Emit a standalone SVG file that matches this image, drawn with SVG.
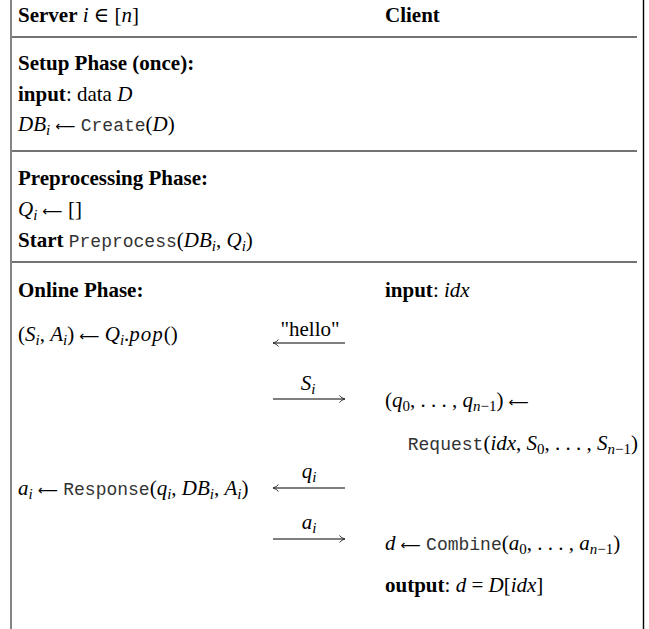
<svg xmlns="http://www.w3.org/2000/svg" width="649" height="629" viewBox="0 0 649 629">
<style>
text{font-family:"Liberation Serif","DejaVu Serif",serif;font-size:21px;fill:#000}
.b{font-weight:bold}
.it{font-style:italic}
.tt{font-family:"Liberation Mono","DejaVu Sans Mono",monospace;font-size:18px;fill:#333}
.sub{font-size:15px;font-style:italic}
.subr{font-size:15px}
.ar{font-family:"DejaVu Sans",sans-serif;font-size:14px;font-weight:normal;font-style:normal}
.rule{stroke:#444;stroke-width:1.4}
.arr{stroke:#555;stroke-width:1.3;fill:none}
</style>
<defs>
<marker id="ah" markerWidth="8" markerHeight="8" refX="7" refY="4" orient="auto-start-reverse" markerUnits="userSpaceOnUse">
<path d="M1.5,0.5 Q3.5,3.2 7,4 Q3.5,4.8 1.5,7.5" fill="none" stroke="#333" stroke-width="1"/>
</marker>
</defs>
<rect width="649" height="629" fill="#fff"/>
<g id="frame">
<line x1="11" y1="0" x2="11" y2="629" stroke="#777" stroke-width="1.8"/>
<line x1="643.5" y1="0" x2="643.5" y2="629" stroke="#000" stroke-width="1.4"/>
<line class="rule" x1="12" y1="37" x2="637" y2="37"/>
<line class="rule" x1="12" y1="151" x2="637" y2="151"/>
<line class="rule" x1="12" y1="262" x2="637" y2="262"/>
</g>
<g id="header">
<text x="18" y="22"><tspan class="b">Server</tspan> <tspan class="it">i</tspan> ∈ [<tspan class="it">n</tspan>]</text>
<text x="385" y="22" class="b">Client</text>
</g>
<g id="setup">
<text x="18" y="70" class="b">Setup Phase (once):</text>
<text x="18" y="101"><tspan class="b">input</tspan>: data <tspan class="it">D</tspan></text>
<text x="18" y="131"><tspan class="it">DB</tspan><tspan class="sub" dy="4">i</tspan><tspan dy="-4"> </tspan><tspan class="ar">⟵</tspan> <tspan class="tt">Create</tspan>(<tspan class="it">D</tspan>)</text>
</g>
<g id="preprocessing">
<text x="18" y="185" class="b">Preprocessing Phase:</text>
<text x="18" y="216"><tspan class="it">Q</tspan><tspan class="sub" dy="4">i</tspan><tspan dy="-4"> </tspan><tspan class="ar">⟵</tspan> []</text>
<text x="18" y="247"><tspan class="b">Start</tspan> <tspan class="tt">Preprocess</tspan>(<tspan class="it">DB</tspan><tspan class="sub" dy="4">i</tspan><tspan dy="-4">, </tspan><tspan class="it">Q</tspan><tspan class="sub" dy="4">i</tspan><tspan dy="-4">)</tspan></text>
</g>
<g id="online-server">
<text x="18" y="297" class="b">Online Phase:</text>
<text x="18" y="341">(<tspan class="it">S</tspan><tspan class="sub" dy="4">i</tspan><tspan dy="-4">, </tspan><tspan class="it">A</tspan><tspan class="sub" dy="4">i</tspan><tspan dy="-4">) </tspan><tspan class="ar">⟵</tspan> <tspan class="it">Q</tspan><tspan class="sub" dy="4">i</tspan><tspan dy="-4">.</tspan><tspan class="it" letter-spacing="1">pop</tspan>()</text>
<text x="18" y="495"><tspan class="it">a</tspan><tspan class="sub" dy="4">i</tspan><tspan dy="-4"> </tspan><tspan class="ar">⟵</tspan> <tspan class="tt">Response</tspan>(<tspan class="it">q</tspan><tspan class="sub" dy="4">i</tspan><tspan dy="-4">, </tspan><tspan class="it">DB</tspan><tspan class="sub" dy="4">i</tspan><tspan dy="-4">, </tspan><tspan class="it">A</tspan><tspan class="sub" dy="4">i</tspan><tspan dy="-4">)</tspan></text>
</g>
<g id="online-client">
<text x="385" y="297"><tspan class="b">input</tspan>: <tspan class="it">idx</tspan></text>
<text x="385" y="407">(<tspan class="it">q</tspan><tspan class="subr" dy="4">0</tspan><tspan dy="-4">, . . . , </tspan><tspan class="it">q</tspan><tspan class="sub" dy="4">n</tspan><tspan class="subr">−1</tspan><tspan dy="-4">) </tspan><tspan class="ar">⟵</tspan></text>
<text x="638" y="450" text-anchor="end"><tspan class="tt">Request</tspan>(<tspan class="it">idx</tspan>, <tspan class="it">S</tspan><tspan class="subr" dy="4">0</tspan><tspan dy="-4">, . . . , </tspan><tspan class="it">S</tspan><tspan class="sub" dy="4">n</tspan><tspan class="subr">−1</tspan><tspan dy="-4">)</tspan></text>
<text x="385" y="550"><tspan class="it">d</tspan> <tspan class="ar">⟵</tspan> <tspan class="tt">Combine</tspan>(<tspan class="it">a</tspan><tspan class="subr" dy="4">0</tspan><tspan dy="-4">, . . . , </tspan><tspan class="it">a</tspan><tspan class="sub" dy="4">n</tspan><tspan class="subr">−1</tspan><tspan dy="-4">)</tspan></text>
<text x="385" y="592"><tspan class="b">output</tspan>: <tspan class="it">d</tspan> = <tspan class="it">D</tspan>[<tspan class="it">idx</tspan>]</text>
</g>
<g id="connectors">
<line class="arr" x1="345" y1="343" x2="273" y2="343" marker-end="url(#ah)"/>
<text x="310" y="336" text-anchor="middle">"hello"</text>
<line class="arr" x1="273" y1="399" x2="345" y2="399" marker-end="url(#ah)"/>
<text x="308" y="390" text-anchor="middle"><tspan class="it">S</tspan><tspan class="sub" dy="4">i</tspan></text>
<line class="arr" x1="345" y1="488" x2="273" y2="488" marker-end="url(#ah)"/>
<text x="309" y="478" text-anchor="middle"><tspan class="it">q</tspan><tspan class="sub" dy="4">i</tspan></text>
<line class="arr" x1="273" y1="539" x2="345" y2="539" marker-end="url(#ah)"/>
<text x="309" y="529" text-anchor="middle"><tspan class="it">a</tspan><tspan class="sub" dy="4">i</tspan></text>
</g>
</svg>
